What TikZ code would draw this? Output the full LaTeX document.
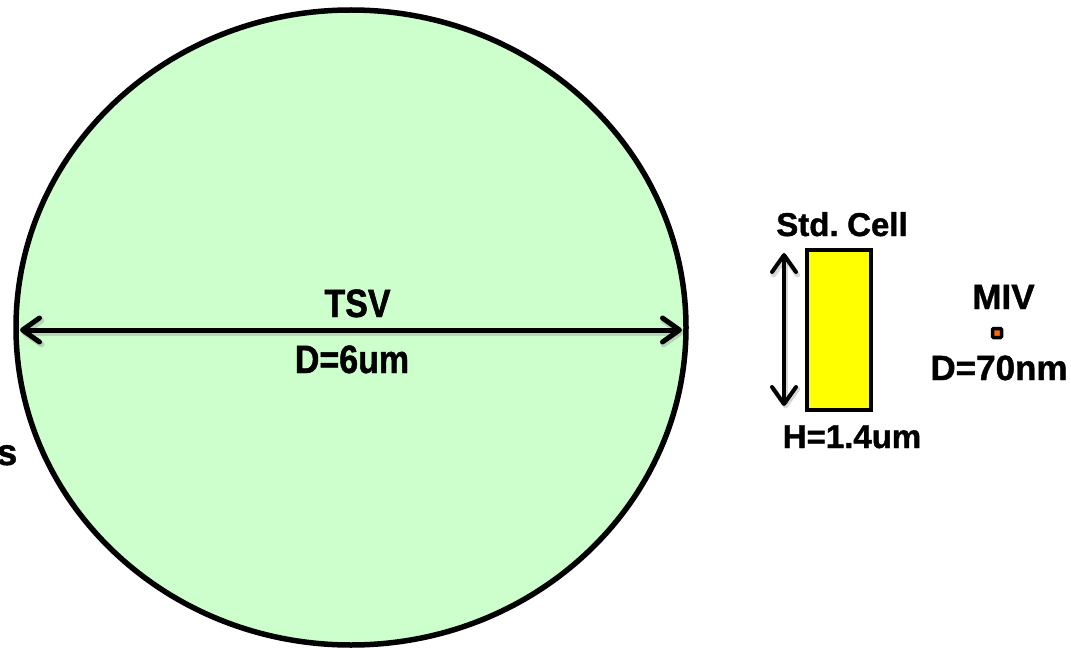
\documentclass[tikz,border=0pt]{standalone}
\usepackage{fontspec}
\setmainfont{Liberation Sans}[FakeBold=1.2, WordSpace=0.6]
\newfontfamily\narrowfont{Liberation Sans}[FakeStretch=0.86, FakeBold=1.2]
\usetikzlibrary{arrows.meta,shapes.geometric}
\definecolor{tsvgreen}{RGB}{204,255,204}
\definecolor{cellyellow}{RGB}{255,255,0}
\definecolor{mivorange}{RGB}{255,102,0}
\tikzset{
  lbl/.style={inner sep=0pt, anchor=base, font=\bfseries\fontsize{33}{36}\selectfont},
  biglbl/.style={inner sep=0pt, anchor=base, font=\narrowfont\bfseries\fontsize{39.5}{42}\selectfont},
  dimarrow/.style={line width=#1, line cap=round,
    {Straight Barb[length=17pt,width=24pt,round]}-{Straight Barb[length=17pt,width=24pt,round]},
    preaction={draw=black!45, opacity=0.35, line width=#1+1pt,
      transform canvas={shift={(1.5pt,-2.5pt)}}}},
}
\begin{document}
\begin{tikzpicture}[x=1pt,y=-1pt]
  \useasboundingbox (0,0) rectangle (1071,650);
  \clip (0,0) rectangle (1071,650);

  % through-silicon via
  \node (tsv) [ellipse, draw=black, line width=5.5pt, fill=tsvgreen,
    minimum width=670pt, minimum height=635pt, inner sep=0pt] at (351,327.5) {};
  \coordinate (tsvL) at (20,330);
  \coordinate (tsvR) at (682,330);
  \draw[dimarrow=5pt] (tsvL) -- (tsvR);
  \node (tsvname) [biglbl] at (357.5,317) {TSV};
  \node (tsvdia) [biglbl] at (352,373) {D=6um};

  % clipped label at the left edge
  \node (edge) [lbl, anchor=base east, font=\bfseries\fontsize{37}{40}\selectfont] at (17.5,465) {s};

  % standard cell
  \node (cell) [draw=black, line width=4pt, fill=cellyellow, inner sep=0pt,
    minimum width=64pt, minimum height=160pt] at (839,330) {};
  \coordinate (cellT) at (784,253);
  \coordinate (cellB) at (784,406);
  \draw[dimarrow=4pt] (cellT) -- (cellB);
  \node (cellname) [lbl] at (842,236) {Std. Cell};
  \node (cellh) [lbl] at (852,448) {H=1.4um};

  % monolithic inter-tier via
  \node (miv) [draw=black, line width=3.5pt, fill=mivorange, inner sep=0pt,
    minimum size=9pt, rounded corners=1pt] at (997,333) {};
  \node (mivname) [lbl, font=\bfseries\fontsize{35}{38}\selectfont] at (1003.5,309) {MIV};
  \node (mivdia) [lbl, font=\bfseries\fontsize{35}{38}\selectfont] at (999,380) {D=70nm};
\end{tikzpicture}
\end{document}
